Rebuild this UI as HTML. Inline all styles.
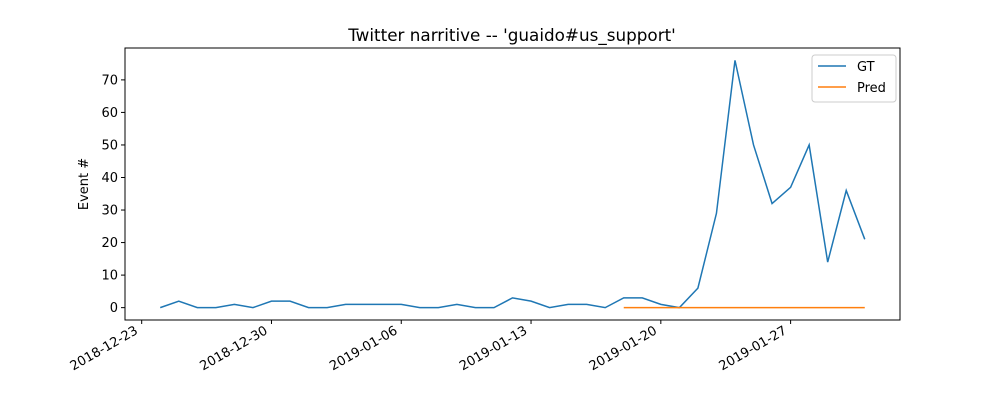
<!DOCTYPE html>
<html><head><meta charset="utf-8"><style>body{margin:0;background:#fff}svg{font-family:"DejaVu Sans","Liberation Sans",sans-serif}</style></head>
<body>
<svg id="c" width="1000" height="400"></svg>
<script>
const gtValues=[0,2,0,0,1,0,2,2,0,0,1,1,1,1,0,0,1,0,0,3,2,0,1,1,0,3,3,1,0,6,29,76,50,32,37,50,14,36,21];
const predValues=[0,0,0,0,0,0,0,0,0,0,0,0,0,0];
const predStartDay=25;
const yTicks=[0,10,20,30,40,50,60,70];
const xTickLabels=["2018-12-23","2018-12-30","2019-01-06","2019-01-13","2019-01-20","2019-01-27"];
const xTickDays=[-1,6,13,20,27,34];
const L=125,R=900,T=48,B=320;
const xMin=-1.9,xMax=39.9,yMin=-3.8,yMax=79.8;
const X=d=>L+(d-xMin)/(xMax-xMin)*(R-L);
const Y=v=>B-(v-yMin)/(yMax-yMin)*(B-T);
const NS="http://www.w3.org/2000/svg",svg=document.getElementById('c');
function mk(t,a,p){const e=document.createElementNS(NS,t);for(const k in a)e.setAttribute(k,a[k]);(p||svg).appendChild(e);return e;}
let e;
e=mk('text',{x:512,y:41,'text-anchor':'middle','font-size':16.8});e.textContent="Twitter narritive -- 'guaido#us_support'";


yTicks.forEach(v=>{mk('line',{x1:L-4,x2:L,y1:Y(v),y2:Y(v),stroke:'#000'});
e=mk('text',{x:L-7,y:Y(v)+4.5,'text-anchor':'end','font-size':13});e.textContent=v;

});
xTickDays.forEach((d,i)=>{const x=X(d);mk('line',{x1:x,x2:x,y1:B,y2:B+4,stroke:'#000'});
const tx=x-3,ty=B+13;
e=mk('text',{x:tx,y:ty,'text-anchor':'end','font-size':13,transform:`rotate(-30 ${tx} ${ty})`});e.textContent=xTickLabels[i];

});
e=mk('text',{x:88,y:184,'text-anchor':'middle','font-size':13,transform:'rotate(-90 88 184)'});e.textContent='Event #';


e=mk('polyline',{points:gtValues.map((v,i)=>X(i)+','+Y(v)).join(' '),fill:'none',stroke:'#1f77b4','stroke-width':1.5});


e=mk('polyline',{points:predValues.map((v,i)=>X(predStartDay+i)+','+Y(v)).join(' '),fill:'none',stroke:'#ff7f0e','stroke-width':1.5});


e=mk('rect',{x:L,y:T,width:R-L,height:B-T,fill:'none',stroke:'#000','stroke-width':1});


const lg=mk('g',{});


mk('rect',{x:812,y:55,width:84,height:47,rx:3,fill:'#fff',stroke:'#ccc'},lg);
mk('line',{x1:818,x2:846,y1:66,y2:66,stroke:'#1f77b4','stroke-width':1.5},lg);
e=mk('text',{x:857,y:71,'font-size':13},lg);e.textContent='GT';
mk('line',{x1:818,x2:846,y1:87,y2:87,stroke:'#ff7f0e','stroke-width':1.5},lg);
e=mk('text',{x:857,y:92,'font-size':13},lg);e.textContent='Pred';
</script>
</body></html>
